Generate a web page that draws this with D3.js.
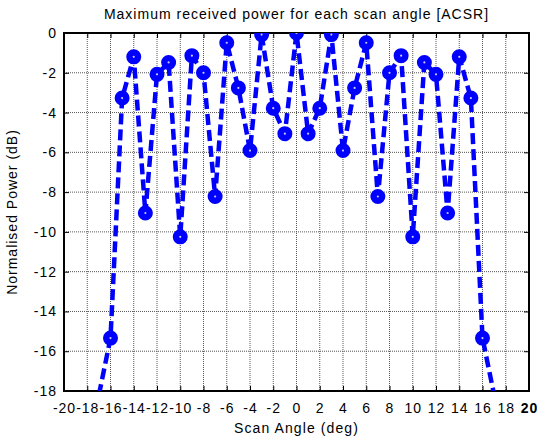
<!DOCTYPE html>
<html>
<head>
<meta charset="utf-8">
<script src="https://cdn.jsdelivr.net/npm/d3@7"></script>
<style>
  body { margin: 0; background: #fff; }
  svg { display: block; font-family: "Liberation Sans", Arial, sans-serif; }
</style>
</head>
<body>
<svg id="chart" width="539" height="441"></svg>
<script>
// scan angles (deg) and max received power (dB)
var angles = [-17, -16, -15, -14, -13, -12, -11, -10, -9, -8, -7, -6, -5, -4, -3, -2, -1,
              0, 1, 2, 3, 4, 5, 6, 7, 8, 9, 10, 11, 12, 13, 14, 15, 16, 17];
var power = [-18.2, -15.34, -3.27, -1.2, -9.05, -2.08, -1.48, -10.25, -1.14, -2.0, -8.22, -0.49, -2.76, -5.91, -0.08, -3.78, -5.06,
             0, -5.06, -3.78, -0.08, -5.91, -2.76, -0.49, -8.22, -2.0, -1.14, -10.25, -1.48, -2.08, -9.05, -1.2, -3.27, -15.34, -18.2];
var xTicks = d3.range(-20, 21, 2);
var yTicks = d3.range(-18, 1, 2);

var data = angles.map(function(a, i) { return {x: a, y: power[i]}; });

var svg = d3.select("svg");
var margin = {left: 64, right: 10, top: 33, bottom: 50};
var width = 539 - margin.left - margin.right,
    height = 441 - margin.top - margin.bottom;

var x = d3.scaleLinear().domain([-20, 20]).range([0, width]);
var y = d3.scaleLinear().domain([-18, 0]).range([height, 0]);
var fmt = function(d) { return String(d); };

var g = svg.append("g").attr("transform", "translate(" + margin.left + "," + margin.top + ")");

// grid
g.append("g").selectAll("line").data(xTicks.slice(1, -1)).enter().append("line")
    .attr("x1", function(d) { return x(d); }).attr("x2", function(d) { return x(d); })
    .attr("y1", 0).attr("y2", height)
    .attr("stroke", "#555").attr("stroke-width", 1).attr("stroke-dasharray", "1,1");
g.append("g").selectAll("line").data(yTicks.slice(1, -1)).enter().append("line")
    .attr("y1", function(d) { return y(d); }).attr("y2", function(d) { return y(d); })
    .attr("x1", 0).attr("x2", width)
    .attr("stroke", "#555").attr("stroke-width", 1).attr("stroke-dasharray", "1,1");

// axes with inward ticks
var xAxis = g.append("g").attr("transform", "translate(0," + height + ")")
    .call(d3.axisBottom(x).tickValues(xTicks).tickSizeInner(-5).tickSizeOuter(0).tickFormat(fmt));
var xTop = g.append("g")
    .call(d3.axisTop(x).tickValues(xTicks).tickSizeInner(-5).tickSizeOuter(0).tickFormat(""));
var yAxis = g.append("g")
    .call(d3.axisLeft(y).tickValues(yTicks).tickSizeInner(-5).tickSizeOuter(0).tickPadding(7).tickFormat(fmt));
var yRight = g.append("g").attr("transform", "translate(" + width + ",0)")
    .call(d3.axisRight(y).tickValues(yTicks).tickSizeInner(-5).tickSizeOuter(0).tickFormat(""));

[xAxis, xTop, yAxis, yRight].forEach(function(a) {
  a.select(".domain").remove();
  a.selectAll("line").attr("stroke", "#000");
  a.selectAll("text").attr("fill", "#000").style("font-size", "14px")
    .style("letter-spacing", "1px")
    .style("font-family", "'Liberation Sans', Arial, sans-serif");
});
xAxis.selectAll("text").attr("dy", "0.35em").attr("y", 17);
// last tick label appears bold in the original
xAxis.selectAll("text").filter(function(d) { return d === 20; }).style("font-weight", "bold");

// plot box
g.append("rect").attr("width", width).attr("height", height)
    .attr("fill", "none").attr("stroke", "#000").attr("stroke-width", 2);

// clipped data
g.append("clipPath").attr("id", "clip").append("rect")
    .attr("width", width).attr("height", height);
var plot = g.append("g").attr("clip-path", "url(#clip)");

var line = d3.line().x(function(d) { return x(d.x); }).y(function(d) { return y(d.y); });

plot.append("path").datum(data)
    .attr("d", line)
    .attr("fill", "none")
    .attr("stroke", "#0000ff")
    .attr("stroke-width", 4.5)
    .attr("stroke-dasharray", "11,5");

plot.selectAll("circle").data(data.filter(function(d) { return d.y >= -18; })).enter().append("circle")
    .attr("cx", function(d) { return x(d.x); })
    .attr("cy", function(d) { return y(d.y); })
    .attr("r", 4.3)
    .attr("fill", "#c8c8ff")
    .attr("stroke", "#0000ff")
    .attr("stroke-width", 6.4);

// title and labels
svg.append("text").attr("x", margin.left + width / 2).attr("y", 19)
    .attr("text-anchor", "middle").style("font-size", "14px").style("letter-spacing", "1px")
    .text("Maximum received power for each scan angle [ACSR]");
svg.append("text").attr("x", margin.left + width / 2).attr("y", 433)
    .attr("text-anchor", "middle").style("font-size", "14px").style("letter-spacing", "1.1px")
    .text("Scan Angle (deg)");
svg.append("text")
    .attr("transform", "translate(17," + (margin.top + height / 2) + ") rotate(-90)")
    .attr("text-anchor", "middle").style("font-size", "14px").style("letter-spacing", "1px")
    .text("Normalised Power (dB)");
</script>
</body>
</html>
